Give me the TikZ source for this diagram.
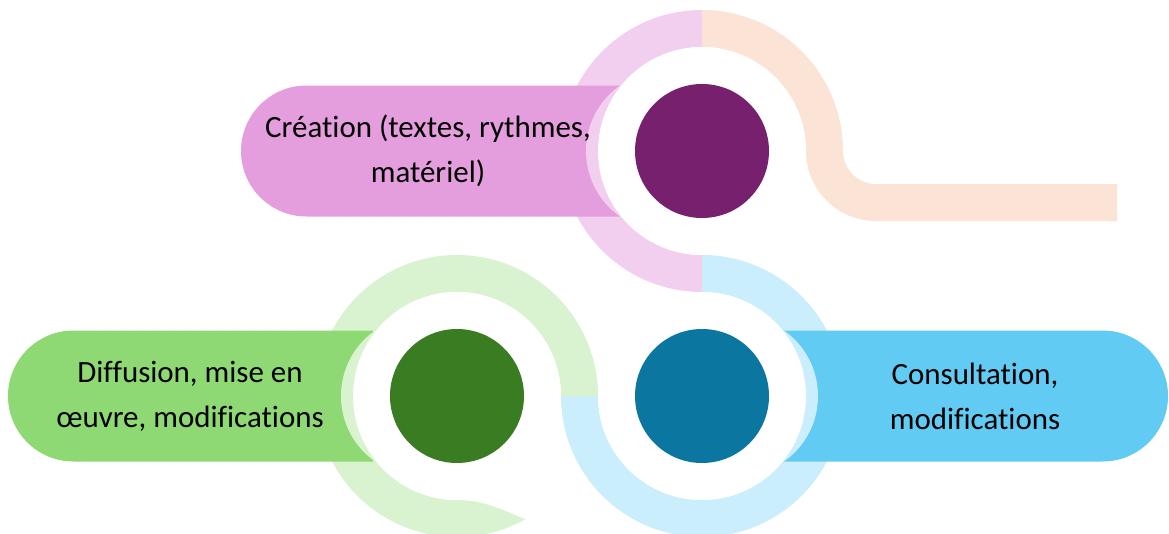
\documentclass[tikz,border=0pt]{standalone}
\usepackage{fontspec}
\setmainfont{Carlito}[Ligatures=NoCommon]
\usepackage{tikz}
\usetikzlibrary{calc}
\definecolor{violetfonce}{HTML}{77206D}
\definecolor{violetpill}{HTML}{E59EDD}
\definecolor{violetclair}{HTML}{F2CEEF}
\definecolor{vertfonce}{HTML}{3A7C22}
\definecolor{vertpill}{HTML}{8ED973}
\definecolor{vertclair}{HTML}{D9F2D0}
\definecolor{bleufonce}{HTML}{0B769F}
\definecolor{bleupill}{HTML}{61CBF3}
\definecolor{bleuclair}{HTML}{CAEEFB}
\definecolor{peche}{HTML}{FBE3D6}

\begin{document}
\begin{tikzpicture}[x=0.025cm,y=0.025cm,
    texte/.style={align=center,font=\fontsize{22}{32}\selectfont}]
    \useasboundingbox (0,0) rectangle (1169,-533);
    \clip (0,0) rectangle (1169,-533);

    % Centres des trois disques
    \coordinate (cCrea) at (702,-151);
    \coordinate (cDiff) at (457,-396);
    \coordinate (cCons) at (702,-396);

    % Bandes claires (le S)
    \fill[violetclair] ($(cCrea)+(0,141)$) arc[start angle=90,end angle=270,radius=141]
        -- ++(0,37) arc[start angle=270,end angle=90,radius=104] -- cycle;
    \fill[peche] ($(cCrea)+(0,141)$) arc[start angle=90,end angle=0,radius=141]
        arc[start angle=180,end angle=270,radius=33] -- (1117,-184) -- (1117,-221)
        -- ++(-241,0) arc[start angle=270,end angle=180,radius=70]
        arc[start angle=0,end angle=90,radius=104] -- cycle;
    \fill[bleuclair] ($(cCons)+(0,141)$) arc[start angle=90,end angle=-180,radius=141]
        -- ++(37,0) arc[start angle=-180,end angle=90,radius=104] -- cycle;
    \fill[vertclair] ($(cDiff)+(141,0)$) arc[start angle=0,end angle=299,radius=141]
        .. controls +(-20,8) and (485,-500) .. ($(cDiff)+(0,-104)$)
        arc[start angle=270,end angle=0,radius=104] -- cycle;

    % Bandeaux arrondis
    \fill[violetpill] ($(cCrea)+(-83,65.5)$) -- (306.5,-85.5) arc[start angle=90,end angle=270,radius=65.5]
        -- ($(cCrea)+(-83,-65.5)$) -- cycle;
    \fill[vertpill] ($(cDiff)+(-84,65.5)$) -- (73.5,-330.5) arc[start angle=90,end angle=270,radius=65.5]
        -- ($(cDiff)+(-84,-65.5)$) -- cycle;
    \fill[bleupill] ($(cCons)+(81,65.5)$) -- (1102.5,-330.5) arc[start angle=90,end angle=-90,radius=65.5]
        -- ($(cCons)+(81,-65.5)$) -- cycle;

    % Croissants
    \fill[violetclair] ($(cCrea)+(-36,0)$) circle[radius=80];
    \fill[vertclair] ($(cDiff)+(-36,0)$) circle[radius=80];
    \fill[bleuclair] ($(cCons)+(36,0)$) circle[radius=80];

    % Disques
    \foreach \c/\col in {cCrea/violetfonce,cDiff/vertfonce,cCons/bleufonce}{
        \fill[white] (\c) circle[radius=104];
        \fill[\col] (\c) circle[radius=67];
    }

    % Textes
    \node[texte] (txtCrea) at (428,-151) {Création (textes, rythmes,\\matériel)};
    \node[texte] (txtDiff) at (190,-396) {Diffusion, mise en\\œuvre, modifications};
    \node[texte] (txtCons) at (975,-396) {Consultation,\\modifications};
\end{tikzpicture}
\end{document}
